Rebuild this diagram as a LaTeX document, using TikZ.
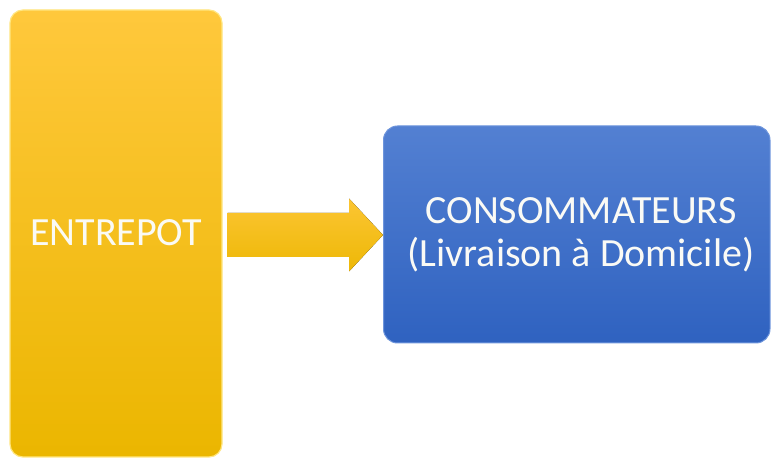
\documentclass[tikz,border=0pt]{standalone}
\usepackage{fontspec}
\setmainfont{Carlito}
\usetikzlibrary{calc}
\definecolor{ytop}{HTML}{FFC83C}
\definecolor{ybot}{HTML}{EBB600}
\definecolor{yedge}{HTML}{FFE680}
\definecolor{btop}{HTML}{5380D2}
\definecolor{bbot}{HTML}{2F62C0}
\definecolor{bedge}{HTML}{6E95DC}
\definecolor{txt}{HTML}{FAFAF5}
\tikzset{
  ybox/.style={rounded corners=13pt, top color=ytop, bottom color=ybot, draw=yedge, line width=1.2pt,
     minimum width=212pt, minimum height=447pt, inner sep=0pt},
  bbox/.style={rounded corners=14pt, top color=btop, bottom color=bbot, draw=bedge, line width=1pt,
     minimum width=386.5pt, minimum height=217pt, inner sep=0pt},
  blockarrow/.style={top color=ytop!85!ybot, bottom color=ybot!90!ytop, draw=none},
  lbl/.style={text=txt, font=\fontsize{40}{43}\selectfont, align=center}
}
\begin{document}
\begin{tikzpicture}[x=1pt,y=1pt]
\useasboundingbox (0,0) rectangle (771,460);
\fill[white] (0,0) rectangle (771,460);
\node[ybox] (ent) at (116,226.5) {};
\node[lbl, anchor=base] (entt) at (116,214) {ENTREPOT};
\node[bbox] (cons) at (576.75,225.5) {};
\node[lbl] (ctxt) at (581,225) {CONSOMMATEURS\\(Livraison à Domicile)};
\coordinate (a0) at ($(ent.east)+(5,-1.5)$);
\coordinate (a1) at ($(cons.west)+(0,-0.5)$);
\fill[blockarrow] ($(a0)+(0,22)$) -- ($(a1)+(-34,22)$) -- ($(a1)+(-34,36.5)$) -- (a1)
   -- ($(a1)+(-34,-36.5)$) -- ($(a1)+(-34,-22)$) -- ($(a0)+(0,-22)$) -- cycle;
\end{tikzpicture}
\end{document}
